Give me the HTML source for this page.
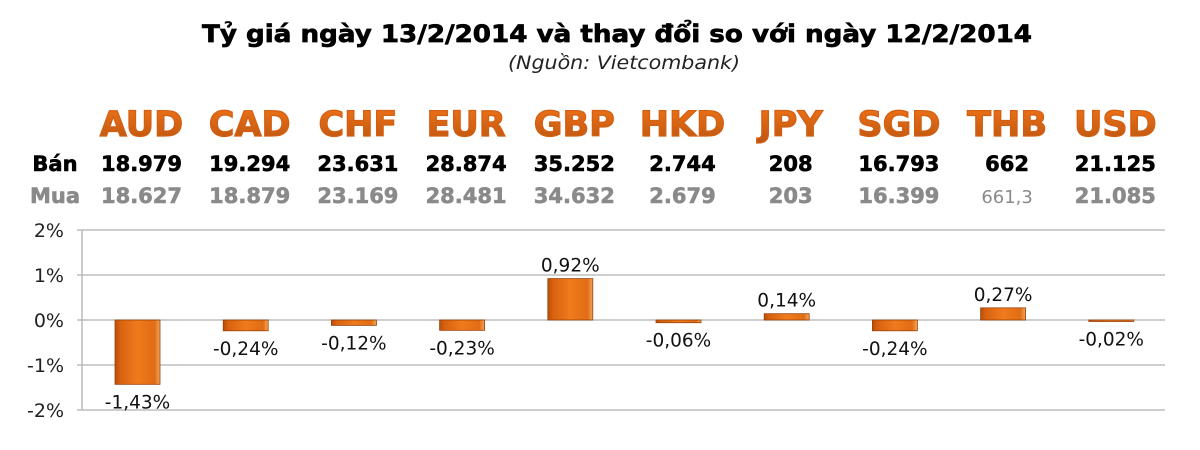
<!DOCTYPE html>
<html><head><meta charset="utf-8"><style>
html,body{margin:0;padding:0;background:#fff;width:1200px;height:450px;overflow:hidden}
</style></head><body>
<svg id="c" width="1200" height="450" xmlns="http://www.w3.org/2000/svg">
<defs>
<linearGradient id="bg" x1="0" x2="1" y1="0" y2="0">
<stop offset="0" stop-color="#b84e0a"/><stop offset="0.12" stop-color="#d9620f"/><stop offset="0.5" stop-color="#f07a1c"/><stop offset="0.88" stop-color="#e06c14"/><stop offset="1" stop-color="#f4a55a"/>
</linearGradient>
<linearGradient id="tg" x1="0" x2="0" y1="0" y2="1">
<stop offset="0" stop-color="#f07318"/><stop offset="1" stop-color="#b85410"/>
</linearGradient>
</defs>
<text x="617" y="42" text-anchor="middle" font-family="DejaVu Sans, sans-serif" font-weight="bold" font-size="24" stroke="#000" stroke-width="0.7" textLength="830" lengthAdjust="spacingAndGlyphs">Tỷ giá ngày 13/2/2014 và thay đổi so với ngày 12/2/2014</text>
<text x="624" y="69" text-anchor="middle" font-family="DejaVu Sans, sans-serif" font-style="italic" font-size="19" fill="#222" textLength="232" lengthAdjust="spacingAndGlyphs">(Nguồn: Vietcombank)</text>
<text x="55" y="171" text-anchor="middle" font-family="DejaVu Sans, sans-serif" font-weight="bold" font-size="21" stroke="#000" stroke-width="0.6">Bán</text>
<text x="55" y="203" text-anchor="middle" font-family="DejaVu Sans, sans-serif" font-weight="bold" font-size="21" fill="#8a8a8a" stroke="#8a8a8a" stroke-width="0.6">Mua</text>
<g id="grid"></g>
<g id="bars"></g>
</svg>
<script>
const categories=["AUD","CAD","CHF","EUR","GBP","HKD","JPY","SGD","THB","USD"];
const sellRates=["18.979","19.294","23.631","28.874","35.252","2.744","208","16.793","662","21.125"];
const buyRates=["18.627","18.879","23.169","28.481","34.632","2.679","203","16.399","661,3","21.085"];
const changes=[-1.43,-0.24,-0.12,-0.23,0.92,-0.06,0.14,-0.24,0.27,-0.02];
const yTicks=[2,1,0,-1,-2];
const tickLabels=["2%","1%","0%","-1%","-2%"];
const NS="http://www.w3.org/2000/svg";
const svg=document.getElementById('c');
const grid=document.getElementById('grid');
const bars=document.getElementById('bars');
function y(v){return 320-v*45;}
function x(i){return 137.5+i*108.2;}
function mk(t,a,p){const e=document.createElementNS(NS,t);for(const k in a)e.setAttribute(k,a[k]);(p||svg).appendChild(e);return e;}
yTicks.forEach((t,i)=>{
  const l=mk('line',{x1:77,x2:1165,y1:y(t),y2:y(t),stroke:'#b0b0b0','stroke-width':1.3},grid);
  
  
  const tx=mk('text',{x:64,y:y(t)+7,'text-anchor':'end','font-family':'DejaVu Sans, sans-serif','font-size':19,fill:'#222'},grid);
  tx.textContent=tickLabels[i];
  
  
});
const ax=mk('line',{x1:82,x2:82,y1:y(2),y2:y(-2),stroke:'#b0b0b0','stroke-width':1.3},grid);


categories.forEach((c,i)=>{
  const cx=x(i);
  const ct=mk('text',{x:cx+4,y:136,'text-anchor':'middle','font-family':'DejaVu Sans, sans-serif','font-weight':'bold','font-size':35,fill:'url(#tg)',stroke:'#d45f12','stroke-width':1.2});
  ct.textContent=c;
  
  
  const s=mk('text',{x:cx+4,y:171,'text-anchor':'middle','font-family':'DejaVu Sans, sans-serif','font-weight':'bold','font-size':21,fill:'#000',stroke:'#000','stroke-width':0.6});
  s.textContent=sellRates[i];
  
  
  const small=buyRates[i].indexOf(',')>=0;
  const b=mk('text',{x:cx+4,y:203,'text-anchor':'middle','font-family':'DejaVu Sans, sans-serif','font-weight':small?'normal':'bold','font-size':small?18:21,fill:'#8a8a8a',stroke:'#8a8a8a','stroke-width':small?0:0.6});
  b.textContent=buyRates[i];
  
  
  const v=changes[i];
  const top=Math.min(y(v),y(0)), h=Math.max(Math.abs(y(v)-y(0)),1.5);
  const r=mk('rect',{x:cx-22.5,y:top,width:45,height:h,fill:'url(#bg)',stroke:'#9a420a','stroke-width':0.8},bars);
  
  
  const lbl=mk('text',{x:cx,y:v>=0?top-7:top+h+24,'text-anchor':'middle','font-family':'DejaVu Sans, sans-serif','font-size':18.5,fill:'#111'},bars);
  lbl.textContent=v.toFixed(2).replace('.',',')+'%';
  
  
});
</script>
</body></html>
